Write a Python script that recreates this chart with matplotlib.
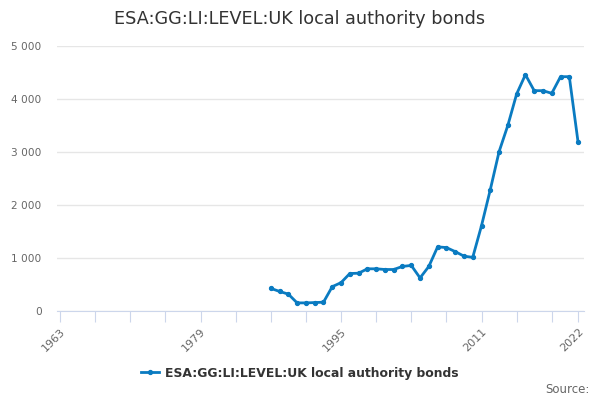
import matplotlib
matplotlib.use("Agg")
import matplotlib.pyplot as plt
from matplotlib.ticker import FuncFormatter, FixedLocator

years = list(range(1987, 2023))
values = [427, 369, 318, 153, 153, 159, 166, 459, 535, 707, 713, 796, 796, 783,
          783, 841, 860, 624, 841, 1210, 1197, 1121, 1035, 1012, 1610, 2289, 3006,
          3503, 4094, 4459, 4157, 4157, 4107, 4421, 4421, 3182]
series_name = "ESA:GG:LI:LEVEL:UK local authority bonds"
title = "ESA:GG:LI:LEVEL:UK local authority bonds"
label_years = [1963, 1979, 1995, 2011, 2022]
tick_years = list(range(1963, 2020, 4)) + [2022]
y_ticks = [0, 1000, 2000, 3000, 4000, 5000]

plt.rcParams['font.family'] = ['DejaVu Sans']
fig = plt.figure(figsize=(6, 4), dpi=100)
ax = fig.add_axes([0.095, 0.2225, 0.878, 0.6625])
color = '#0a7bc1'
ax.plot(years, values, color=color, lw=2, marker='o', ms=2.8, label=series_name,
        solid_joinstyle='round', zorder=3)

ax.set_xlim(1962.65, 2022.65)
ax.set_ylim(0, 5000)
ax.set_yticks(y_ticks)
ax.yaxis.set_major_formatter(FuncFormatter(lambda v, p: f"{int(v):,}".replace(",", " ")))
ax.grid(axis='y', color='#e6e6e6', lw=1, zorder=0)
ax.set_axisbelow(True)
for s in ['top', 'right', 'left']:
    ax.spines[s].set_visible(False)
ax.spines['bottom'].set_color('#ccd6eb')
ax.tick_params(axis='y', length=0, labelsize=7.6, labelcolor='#666666', pad=11)

ax.xaxis.set_major_locator(FixedLocator(tick_years))
ax.set_xticklabels([str(y) if y in label_years else "" for y in tick_years])
ax.tick_params(axis='x', length=8, color='#ccd6eb', labelsize=8, labelcolor='#666666', pad=3)
for lab in ax.get_xticklabels():
    lab.set_rotation(45)
    lab.set_ha('right')
    lab.set_rotation_mode('anchor')

fig.text(0.5, 0.953, title, ha='center', va='center', fontsize=12.7, color='#333333')
leg = fig.legend(loc='center', bbox_to_anchor=(0.5, 0.067), frameon=False,
                 prop={'size': 8.9, 'weight': 'bold'}, handlelength=1.4, handletextpad=0.5)
for t in leg.get_texts():
    t.set_color('#333333')
fig.text(0.983, 0.027, "Source:", ha='right', va='center', fontsize=8.5, color='#666666')

fig.savefig("out.png", dpi=100)
